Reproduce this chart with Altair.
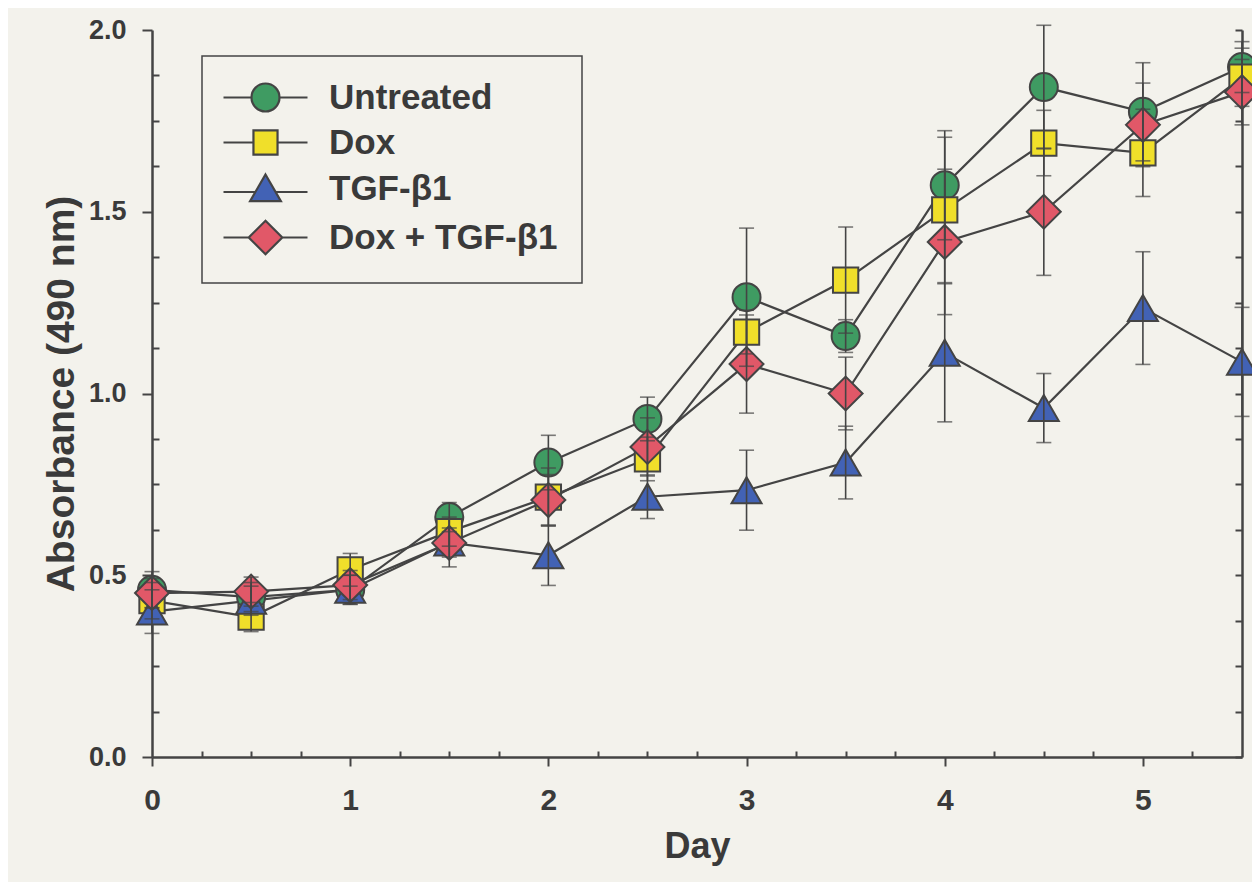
import altair as alt
import pandas as pd

# ---------------- data ----------------
days = [0, 0.5, 1, 1.5, 2, 2.5, 3, 3.5, 4, 4.5, 5, 5.5]
series_names = ["Untreated", "Dox", "TGF-β1", "Dox + TGF-β1"]

untreated     = [0.46, 0.44, 0.46, 0.66, 0.81, 0.93, 1.265, 1.158, 1.573, 1.843, 1.775, 1.898]
untreated_err = [0.05, 0.04, 0.04, 0.04, 0.075, 0.06, 0.19, 0.045, 0.15, 0.17, 0.135, 0.07]
dox           = [0.43, 0.385, 0.515, 0.62, 0.715, 0.82, 1.169, 1.312, 1.505, 1.689, 1.662, 1.87]
dox_err       = [0.05, 0.04, 0.045, 0.04, 0.08, 0.06, 0.06, 0.146, 0.2, 0.09, 0.12, 0.08]
tgf           = [0.40, 0.43, 0.46, 0.59, 0.555, 0.716, 0.734, 0.81, 1.112, 0.96, 1.235, 1.087]
tgf_err       = [0.06, 0.04, 0.04, 0.04, 0.083, 0.06, 0.11, 0.10, 0.19, 0.095, 0.155, 0.15]
dox_tgf       = [0.451, 0.455, 0.473, 0.589, 0.707, 0.853, 1.081, 1.0, 1.417, 1.50, 1.739, 1.829]
dox_tgf_err   = [0.04, 0.04, 0.04, 0.066, 0.07, 0.08, 0.135, 0.10, 0.2, 0.175, 0.115, 0.09]

x_major = [0, 1, 2, 3, 4, 5]
x_minor = [0.25, 0.5, 0.75, 1.25, 1.5, 1.75, 2.25, 2.5, 2.75, 3.25, 3.5, 3.75,
           4.25, 4.5, 4.75, 5.25]
y_major = [0.0, 0.5, 1.0, 1.5, 2.0]
y_minor = [0.125, 0.25, 0.375, 0.625, 0.75, 0.875, 1.125, 1.25, 1.375,
           1.625, 1.75, 1.875]
y_right = [0.0, 0.125, 0.25, 0.375, 0.5, 0.625, 0.75, 0.875, 1.0, 1.125, 1.25,
           1.375, 1.5, 1.625, 1.75, 1.875, 2.0]

# ---------------- styles ----------------
BG = "#f3f2ec"
INK = "#444444"
TEXT = "#3a3a3a"
FONT = "Liberation Sans"
colors = ["#3f9b62", "#f0df2a", "#4262b5", "#e15868"]
outlines = [INK, INK, INK, INK]
shapes = ["circle", "square", "triangle-up", "diamond"]
sizes = [784, 640, 900, 1150]
legend_shapes = [
    "M-3,0H-1M1,0H3M-1,0A1,1,0,1,1,1,0A1,1,0,1,1,-1,0Z",
    "M-3,0H-0.86M0.86,0H3M-0.86,-0.86H0.86V0.86H-0.86Z",
    "M-3,0.25H-0.75M0.75,0.25H3M0,-1L1.1,0.9L-1.1,0.9Z",
    "M-3,0H-1.2M1.2,0H3M0,-1.2L1.2,0L0,1.2L-1.2,0Z",
]

W, H = 1090, 727

rows = []
for name, vals, errs in zip(series_names,
                            [untreated, dox, tgf, dox_tgf],
                            [untreated_err, dox_err, tgf_err, dox_tgf_err]):
    for d, v, e in zip(days, vals, errs):
        rows.append({"day": d, "value": v, "err": e, "series": name})
df = pd.DataFrame(rows)

xs = alt.Scale(domain=[0, 5.5], nice=False, zero=False)
ys = alt.Scale(domain=[0, 2.0], nice=False, zero=False)

base = alt.Chart(df).transform_calculate(
    lo="datum.value - datum.err", hi="datum.value + datum.err"
)

lines = base.mark_line(color=INK, strokeWidth=2.2).encode(
    x=alt.X("day:Q", scale=xs, axis=alt.Axis(
        orient="bottom", values=x_major, title="Day", tickSize=9, labelFlush=False,
        labelPadding=19, titlePadding=14, labelFontSize=30, titleFontSize=36)),
    y=alt.Y("value:Q", scale=ys, axis=alt.Axis(
        orient="left", values=y_major, format=".1f", title="Absorbance (490 nm)",
        tickSize=10, labelPadding=16, titlePadding=7, labelFontSize=27,
        labelFlush=False, titleFontSize=39)),
    detail="series:N",
)

points = base.mark_point(filled=True, opacity=1, stroke=INK, strokeWidth=2).encode(
    x=alt.X("day:Q", scale=xs, axis=alt.Axis(
        orient="top", offset=-H, values=x_minor, labels=False, domain=False,
        tickSize=6, title=None)),
    y=alt.Y("value:Q", scale=ys, axis=alt.Axis(
        orient="right", offset=-W, values=y_minor, labels=False, domain=False,
        tickSize=7, title=None)),
    fill=alt.Fill("series:N", scale=alt.Scale(domain=series_names, range=colors), legend=None),
    shape=alt.Shape("series:N", scale=alt.Scale(domain=series_names, range=shapes), legend=None),
    size=alt.Size("series:N", scale=alt.Scale(type="ordinal", domain=series_names, range=sizes),
                  legend=None),
)

rules = base.mark_rule(color=INK, strokeWidth=1.6).encode(
    x=alt.X("day:Q", scale=xs, axis=None),
    y=alt.Y("lo:Q", scale=ys, axis=alt.Axis(
        orient="left", offset=-W, values=y_right, labels=False, domain=True,
        tickSize=7, title=None)),
    y2="hi:Q",
)

cap_lo = base.mark_tick(orient="horizontal", size=15, thickness=1.6, color=INK).encode(
    x=alt.X("day:Q", scale=xs, axis=None),
    y=alt.Y("lo:Q", scale=ys, axis=None),
)
cap_hi = base.mark_tick(orient="horizontal", size=15, thickness=1.6, color=INK).encode(
    x=alt.X("day:Q", scale=xs, axis=None),
    y=alt.Y("hi:Q", scale=ys, axis=None),
)

leg = alt.Legend(title=None, orient="none", legendX=50, legendY=26)
legend_layer = alt.Chart(df).transform_filter("false").mark_point(
    filled=True, opacity=1, strokeWidth=2
).encode(
    x=alt.X("day:Q", scale=xs, axis=None),
    y=alt.Y("value:Q", scale=ys, axis=None),
    fill=alt.Fill("series:N", scale=alt.Scale(domain=series_names, range=colors), legend=leg),
    shape=alt.Shape("series:N", scale=alt.Scale(domain=series_names, range=legend_shapes), legend=leg),
    stroke=alt.Stroke("series:N", scale=alt.Scale(domain=series_names, range=outlines), legend=leg),
)

chart = alt.layer(lines, points, rules, cap_lo, cap_hi, legend_layer).resolve_scale(
    shape="independent", fill="independent", size="independent", stroke="independent"
).resolve_axis(
    x="independent", y="independent"
).properties(
    width=W, height=H,
    autosize=alt.AutoSizeParams(type="none"),
    padding={"left": 144, "top": 22, "right": 10, "bottom": 125},
).configure(
    background=BG, font=FONT
).configure_view(
    stroke=None
).configure_axis(
    grid=False, domainColor=INK, domainWidth=2.5, tickColor=INK, tickWidth=2,
    labelColor=TEXT, titleColor=TEXT, labelFont=FONT, titleFont=FONT,
    labelFontWeight="bold", titleFontWeight="bold",
).configure_legend(
    padding=24, fillColor=BG, strokeColor=INK, strokeWidth=1.5,
    labelFont=FONT, labelFontSize=35, labelFontWeight="bold", labelColor=TEXT,
    labelLimit=600, symbolSize=784, symbolStrokeWidth=2.2,
    symbolOffset=22, labelOffset=46, rowPadding=9, symbolOpacity=1,
)

chart.save("out.html", embed_options={"renderer": "svg", "actions": False})
